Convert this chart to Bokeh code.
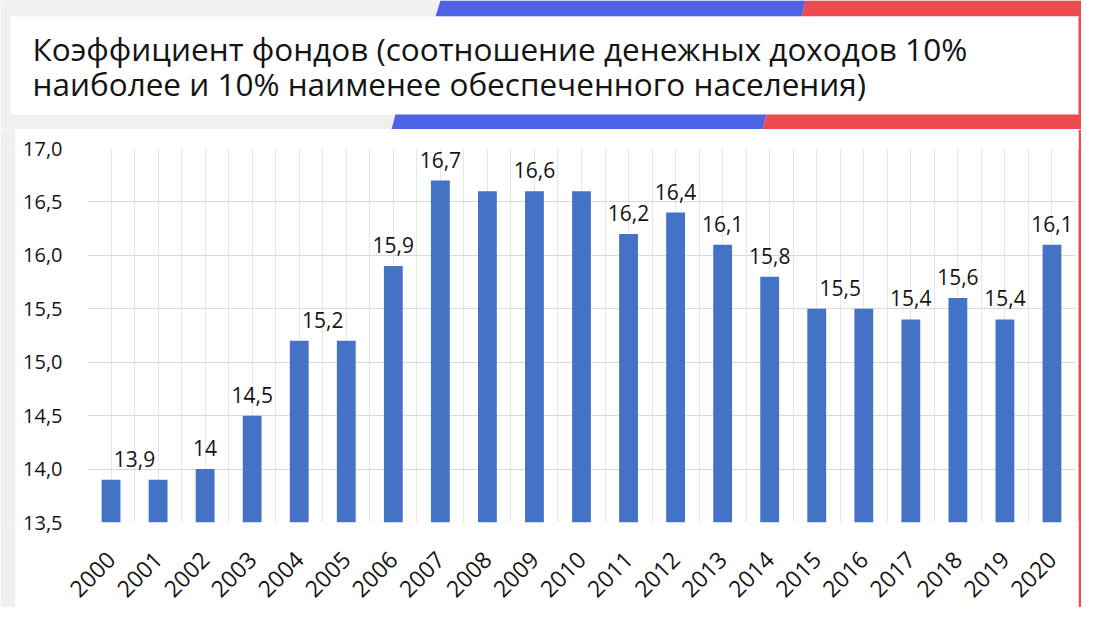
import math
from bokeh.plotting import figure
from bokeh.layouts import column, row
from bokeh.models import FixedTicker
from bokeh.core.properties import value
from bokeh.embed import file_html
from bokeh.resources import INLINE

# ---------------- data ----------------
title_lines = [
    "Коэффициент фондов (соотношение денежных доходов 10%",
    "наиболее и 10% наименее обеспеченного населения)",
]
years = ["2000", "2001", "2002", "2003", "2004", "2005", "2006", "2007", "2008", "2009",
         "2010", "2011", "2012", "2013", "2014", "2015", "2016", "2017", "2018", "2019", "2020"]
values = [13.9, 13.9, 14.0, 14.5, 15.2, 15.2, 15.9, 16.7, 16.6, 16.6,
          16.6, 16.2, 16.4, 16.1, 15.8, 15.5, 15.5, 15.4, 15.6, 15.4, 16.1]
y_ticks = [13.5, 14.0, 14.5, 15.0, 15.5, 16.0, 16.5, 17.0]
y_tick_labels = ["13,5", "14,0", "14,5", "15,0", "15,5", "16,0", "16,5", "17,0"]
# data labels: text and the span of years each label is centred over
label_texts = ["13,9", "14", "14,5", "15,2", "15,9", "16,7", "16,6", "16,2", "16,4",
               "16,1", "15,8", "15,5", "15,4", "15,6", "15,4", "16,1"]
label_from = ["2000", "2002", "2003", "2004", "2006", "2007", "2008", "2011", "2012",
              "2013", "2014", "2015", "2017", "2018", "2019", "2020"]
label_to = ["2001", "2002", "2003", "2005", "2006", "2007", "2010", "2011", "2012",
            "2013", "2014", "2016", "2017", "2018", "2019", "2020"]

# ---------------- style ----------------
FONT = "Open Sans"
BLUE = "#4d62e4"
RED = "#ee4b51"
BAR = "#4472c4"
SLIDE = "#f0f0f0"
TXT = "#141414"

TOTAL_W, TOTAL_H = 1081, 607
HEAD_H = 129
LEFT_W, RIGHT_W = 15, 3
MAIN_W = TOTAL_W - LEFT_W - RIGHT_W
MAIN_H = TOTAL_H - HEAD_H


def bare(w, h, xr, yr, color):
    f = figure(width=w, height=h, x_range=xr, y_range=yr, min_border=0,
               toolbar_location=None, output_backend="svg",
               x_axis_location=None, y_axis_location=None)
    f.grid.visible = False
    f.outline_line_color = None
    f.background_fill_color = color
    f.border_fill_color = color
    return f


# ---------------- header (title box + stripes) ----------------
head = bare(TOTAL_W, HEAD_H, (0, TOTAL_W), (HEAD_H, 0), SLIDE)
R = TOTAL_W
deco_xs = [
    [440, 805, 801, 435],
    [805, R, R, 801],
    [10, R - RIGHT_W, R - RIGHT_W, 10],
    [R - RIGHT_W, R, R, R - RIGHT_W],
    [395, 766, 762, 391],
    [766, R, R, 762],
]
deco_ys = [
    [0, 0, 16, 16],
    [0, 0, 16, 16],
    [16, 16, 114, 114],
    [16, 16, 114, 114],
    [114, 114, HEAD_H, HEAD_H],
    [114, 114, HEAD_H, HEAD_H],
]
deco_col = [BLUE, RED, "white", RED, BLUE, RED]
head.patches(xs=deco_xs, ys=deco_ys, fill_color=deco_col, line_color=None)
head.text(x=[32, 32], y=[48, 83], text=title_lines, text_font=value(FONT),
          text_font_size="31.5px", text_baseline="alphabetic", text_align="left",
          text_color=TXT)

# ---------------- main chart ----------------
n = len(years)
x0, x1 = -0.5, n - 0.5
y0, y1 = y_ticks[0], y_ticks[-1]

p = figure(width=MAIN_W, height=MAIN_H, x_range=(x0, x1), y_range=(y0, y1),
           output_backend="svg", toolbar_location=None,
           min_border_left=72, min_border_right=3,
           min_border_top=19, min_border_bottom=84)
p.border_fill_color = "white"
p.background_fill_color = "white"
p.outline_line_color = None

xi = list(range(n))
p.vbar(x=xi, top=values, bottom=y0, width=0.4, fill_color=BAR, line_color=None)

lx = [(years.index(a) + years.index(b)) / 2 for a, b in zip(label_from, label_to)]
ly = [max(values[years.index(a):years.index(b) + 1]) for a, b in zip(label_from, label_to)]
p.text(x=lx, y=ly, text=label_texts, text_font=value(FONT), text_font_size="21px",
       text_align="center", text_baseline="alphabetic", y_offset=-21, text_color=TXT)

p.yaxis.ticker = FixedTicker(ticks=y_ticks)
p.yaxis.major_label_overrides = {t: s for t, s in zip(y_ticks, y_tick_labels)}
p.xaxis.ticker = FixedTicker(ticks=xi)
p.xaxis.major_label_overrides = {i: y for i, y in zip(xi, years)}
p.xaxis.major_label_orientation = math.pi / 4
for ax in (p.xaxis, p.yaxis):
    ax.axis_line_color = None
    ax.major_tick_line_color = None
    ax.minor_tick_line_color = None
    ax.major_tick_out = 0
    ax.major_tick_in = 0
    ax.major_label_text_font = FONT
    ax.major_label_text_color = TXT
p.yaxis.major_label_text_font_size = "20px"
p.xaxis.major_label_text_font_size = "23px"
p.yaxis.major_label_standoff = 25
p.xaxis.major_label_standoff = 33

p.ygrid.ticker = FixedTicker(ticks=y_ticks)
p.ygrid.grid_line_color = "#d9d9d9"
p.xgrid.ticker = FixedTicker(ticks=[x0 + 0.5 * k for k in range(2 * n + 1)])
p.xgrid.grid_line_color = "#e6e6e6"

left = bare(LEFT_W, MAIN_H, (0, 1), (0, 1), SLIDE)
right = bare(RIGHT_W, MAIN_H, (0, 1), (0, 1), RED)

layout = column(head, row(left, p, right, spacing=0), spacing=0)

open("out.html", "w").write(file_html(layout, INLINE))
